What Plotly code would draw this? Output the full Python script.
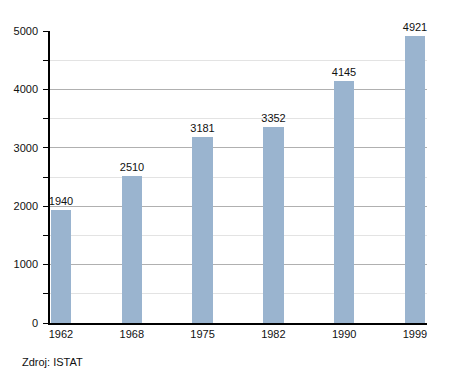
import plotly.graph_objects as go

years = ["1962", "1968", "1975", "1982", "1990", "1999"]
population = [1940, 2510, 3181, 3352, 4145, 4921]
y_ticks = [0, 1000, 2000, 3000, 4000, 5000]

fig = go.Figure()
fig.add_trace(go.Bar(
    x=years,
    y=population,
    marker=dict(color="#9ab4cf", line=dict(width=0)),
    width=0.29,
    text=[str(v) for v in population],
    textposition="outside",
    constraintext="none",
    textfont=dict(family="Liberation Sans, Arial, sans-serif", size=11, color="#111"),
    cliponaxis=False,
))

fig.update_layout(
    width=455, height=373,
    margin=dict(l=50, r=28, t=31, b=50),
    paper_bgcolor="white", plot_bgcolor="white",
    showlegend=False,
    font=dict(family="Liberation Sans, Arial, sans-serif", size=11, color="#111"),
    bargap=0,
)
fig.update_xaxes(
    type="category",
    range=[-0.155, 5.17],
    showgrid=False,
    showline=True, linecolor="black", linewidth=1.5,
    ticks="", tickfont=dict(size=11),
)
fig.update_yaxes(
    range=[0, 5000],
    tickvals=y_ticks,
    showgrid=True, gridcolor="#b0b0b0", gridwidth=1,
    showline=True, linecolor="black", linewidth=1.5,
    ticks="outside", ticklen=5, tickcolor="black",
    ticklabelstandoff=3,
    zeroline=False,
    minor=dict(dtick=500, showgrid=True, gridcolor="#e3e3e3", ticks="outside",
               ticklen=5, tickcolor="black"),
    tickfont=dict(size=11),
)
fig.add_annotation(
    text="Zdroj: ISTAT", xref="paper", yref="paper",
    x=-30 / 377, y=-39 / 292, xanchor="left", yanchor="middle",
    showarrow=False, font=dict(size=11, color="#111"),
)

fig.write_html("out.html", config={"displayModeBar": False},
               post_script="document.body.style.margin='0';")
